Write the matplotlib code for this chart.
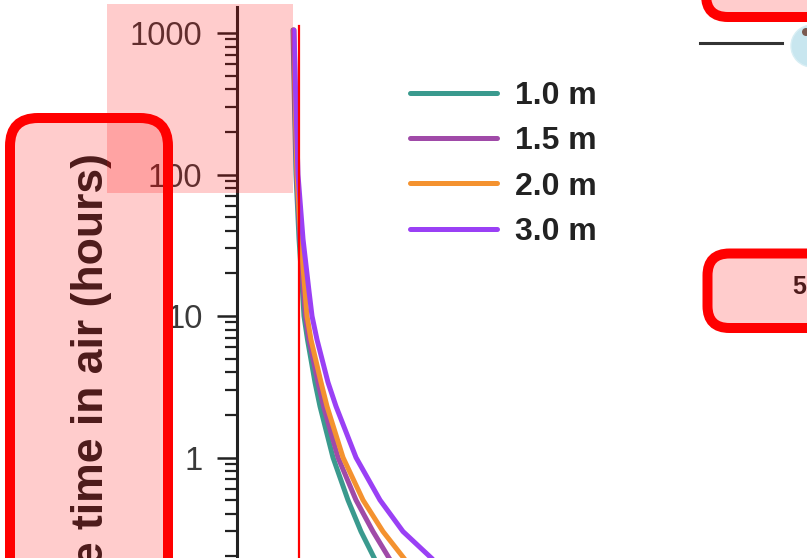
import matplotlib
matplotlib.use("Agg")
import matplotlib.pyplot as plt
from matplotlib.patches import FancyBboxPatch, Rectangle, Circle

# x in arbitrary diameter units, y = residence time (hours)
hours = [1050, 300, 100, 35, 15, 10, 6.8, 3.4, 2.3, 1, 0.5, 0.3, 0.19]
x_10 = [9.82, 10.09, 10.35, 10.88, 11.49, 11.75, 12.37, 13.68, 14.56, 16.84,
        19.47, 21.75, 24.21]
x_15 = [9.91, 10.18, 10.44, 11.05, 11.67, 12.02, 12.63, 14.21, 15.18, 17.72,
        20.88, 23.86, 26.84]
x_20 = [10.00, 10.26, 10.53, 11.18, 11.93, 12.28, 12.98, 14.74, 15.79, 18.60,
        22.11, 25.61, 29.47]
x_30 = [10.00, 10.35, 10.70, 11.58, 12.63, 13.16, 14.04, 15.96, 17.37, 20.88,
        25.09, 29.12, 34.39]
labels = ["1.0 m", "1.5 m", "2.0 m", "3.0 m"]
colors = ["#3a9a8e", "#a04aa8", "#f4922f", "#9a40f5"]
yticks = [1, 10, 100, 1000]

W, H = 807, 558
fig = plt.figure(figsize=(W / 100, H / 100), dpi=100)

# axes runs past the bottom of the crop (down to 0.001 h)
ax = fig.add_axes([237 / W, (H - 882) / H, (W - 237) / W, 875 / H])
for xs, lab, c in zip([x_10, x_15, x_20, x_30], labels, colors):
    ax.plot(xs, hours, color=c, lw=3.6, label=lab, solid_capstyle="round",
            solid_joinstyle="round")

ax.set_yscale("log")
ax.set_ylim(0.001, 1527)
ax.set_xlim(0, 100)
ax.set_yticks(yticks)
ax.set_yticklabels([str(t) for t in yticks])
for s in ["top", "right", "bottom"]:
    ax.spines[s].set_visible(False)
ax.spines["left"].set_linewidth(2.2)
ax.spines["left"].set_color("#222222")
ax.set_xticks([])
ax.tick_params(axis="y", which="major", length=14.4, width=1.8, pad=10.5,
               labelsize=23.5, labelcolor="#3a3a3a", color="#222222")
ax.tick_params(axis="y", which="minor", length=8.6, width=1.6, color="#222222")
for t in ax.get_yticklabels():
    t.set_fontfamily("Liberation Sans")

leg = ax.legend(loc="upper left", bbox_to_anchor=(410 / W, 1 - 81 / H),
                bbox_transform=fig.transFigure, frameon=False, borderpad=0,
                borderaxespad=0, handlelength=2.72, handletextpad=0.56,
                labelspacing=0.48, prop={"family": "Liberation Sans",
                                         "weight": "bold", "size": 23})
for t in leg.get_texts():
    t.set_color("#222222")

fig.text(92 / W, (H - 153) / H, "Residence time in air (hours)", rotation=90,
         ha="center", va="top", fontsize=32, fontweight="bold",
         family="Liberation Sans", color="#222222")

# markup layer on top of the crop
ov = fig.add_axes([0, 0, 1, 1], zorder=10)
ov.set_xlim(0, W)
ov.set_ylim(H, 0)
ov.axis("off")
ov.patch.set_alpha(0)
pink = (1, 0, 0, 0.2)
ov.add_patch(Rectangle((107, 4), 186, 189, facecolor=pink, edgecolor="none"))
ov.add_patch(FancyBboxPatch((10, 118), 158, 700, boxstyle="round,pad=0,rounding_size=28",
                            facecolor=pink, edgecolor="red", lw=7.2))
ov.add_patch(FancyBboxPatch((706, -200), 300, 217, boxstyle="round,pad=0,rounding_size=22",
                            facecolor=pink, edgecolor="red", lw=7.2))
ov.text(792, 287, "5", ha="left", va="center", fontsize=18, fontweight="bold",
        family="Liberation Sans", color="#222222", zorder=1)
ov.add_patch(FancyBboxPatch((707.5, 253.5), 300, 74.5, boxstyle="round,pad=0,rounding_size=22",
                            facecolor=pink, edgecolor="red", lw=7.2, zorder=2))
ov.plot([299, 299], [26, 560], color="red", lw=1.6)
ov.plot([700, 782], [43, 43], color="#333333", lw=2.2)
ov.add_patch(Circle((812, 46), 21, facecolor="#c8e6ef", edgecolor="#d8eef4", lw=1))
ov.add_patch(Circle((806, 32), 4, facecolor="#7a5a50", edgecolor="none"))

fig.savefig("out.png", dpi=100)
